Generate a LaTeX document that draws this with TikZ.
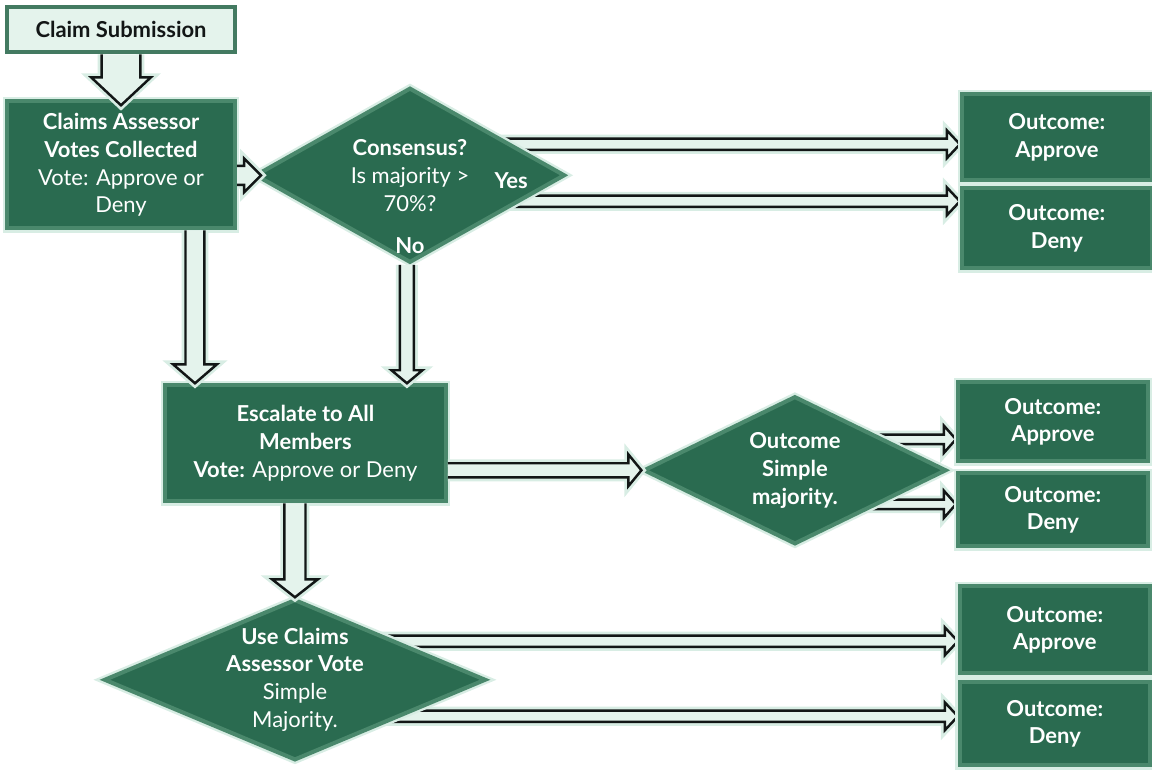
\documentclass[tikz,border=0pt]{standalone}
\usepackage{fontspec}
\setmainfont{Lato}
\usepackage{xcolor}
\usetikzlibrary{shapes.geometric, positioning, calc, backgrounds}

\definecolor{deepgreen}{RGB}{42,107,80}
\definecolor{edgegreen}{RGB}{74,136,108}
\definecolor{mint}{RGB}{228,243,236}
\definecolor{glow}{RGB}{216,237,228}
\definecolor{ink}{RGB}{18,22,22}

\begin{document}
\begin{tikzpicture}[
  x=0.02cm, y=-0.02cm,
  node distance=0.5cm,
  every node/.style={font=\fontsize{12.5}{15.9}\selectfont, align=center, inner sep=0pt},
  boldtext/.style={font=\fontsize{12.5}{15.9}\selectfont\bfseries},
  box/.style={rectangle, fill=deepgreen, draw=edgegreen, line width=2.3pt,
              text=white, preaction={draw=glow, line width=5pt}},
  choice/.style={diamond, fill=deepgreen, draw=edgegreen, line width=2.3pt,
                 text=white, preaction={draw=glow, line width=5pt}},
  startbox/.style={rectangle, fill=mint, draw=edgegreen!90!black, line width=2.6pt,
                   text=ink, boldtext, minimum width=4.56cm, minimum height=0.9cm},
  outcome/.style={box, boldtext, minimum width=3.8cm},
  tag/.style={boldtext, text=white},
  arrowbody/.style={draw=ink, fill=mint, line width=1.4pt, line join=miter,
                    preaction={draw=glow, line width=4.5pt}},
  rarrow/.style n args={3}{arrowbody, to path={
    let \p1=(\tikztostart), \p2=(\tikztotarget) in
    (\x1,\y2+#1) -- (\x2-#3,\y2+#1) -- (\x2-#3,\y2+#2) -- (\x2,\y2)
    -- (\x2-#3,\y2-#2) -- (\x2-#3,\y2-#1) -- (\x1,\y2-#1)}},
  darrow/.style n args={3}{arrowbody, to path={
    let \p1=(\tikztostart), \p2=(\tikztotarget) in
    (\x2-#1,\y1) -- (\x2-#1,\y2+#3) -- (\x2-#2,\y2+#3) -- (\x2,\y2)
    -- (\x2+#2,\y2+#3) -- (\x2+#1,\y2+#3) -- (\x2+#1,\y1)}}
]
\useasboundingbox (0,0) rectangle (1152,769);

% Submission and first vote
\node[startbox] (claim) at (121,29.5) {Claim Submission};
\node[box, below=0.9cm of claim, minimum width=4.56cm, minimum height=2.54cm] (assess)
      {\textbf{Claims Assessor}\\\textbf{Votes Collected}\\Vote: Approve or\\Deny};

% Consensus check
\node[choice, right=0.32cm of assess, yshift=-0.21cm,
      minimum width=6.2cm, minimum height=3.5cm, aspect=1.77] (cons)
      {\textbf{Consensus?}\\Is majority >\\70\%?};
\node[tag, left=0.78cm of cons.east, yshift=-0.1cm] (yes) {Yes};
\node[tag, above=0.22cm of cons.south] (no) {No};

\node[outcome, right=7.86cm of cons, yshift=0.76cm, minimum height=1.72cm] (appr1)
      {Outcome:\\Approve};
\node[outcome, below=0.08cm of appr1, minimum height=1.6cm] (deny1)
      {Outcome:\\Deny};

% Escalation
\node[box, below=3.06cm of assess, xshift=3.69cm,
      minimum width=5.62cm, minimum height=2.32cm] (escal)
      {\textbf{Escalate to All}\\\textbf{Members}\\\textbf{Vote:} Approve or Deny};
\node[choice, boldtext, right=3.87cm of escal, yshift=-0.54cm,
      minimum width=6.06cm, minimum height=2.96cm, aspect=2.02] (outd)
      {Outcome\\Simple\\majority.};
\node[outcome, right=0.15cm of outd, yshift=0.97cm, minimum height=1.58cm] (appr2)
      {Outcome:\\Approve};
\node[outcome, below=0.16cm of appr2, minimum height=1.46cm] (deny2)
      {Outcome:\\Deny};

% Fall back to assessor vote
\node[choice, below=1.88cm of escal, xshift=-0.21cm, inner ysep=-12pt,
      minimum width=7.64cm, minimum height=3.22cm, aspect=2.34] (use)
      {\textbf{Use Claims}\\\textbf{Assessor Vote}\\Simple\\Majority.};
\node[outcome, right=9.4cm of use, yshift=1cm, minimum height=1.74cm] (appr3)
      {Outcome:\\Approve};
\node[outcome, below=0.1cm of appr3, minimum height=1.66cm] (deny3)
      {Outcome:\\Deny};

% Arrows into the next step
\draw[darrow={11pt}{17pt}{15.9pt}] (claim.south) to ([yshift=-0.12cm]assess.north);
\draw[rarrow={5.4pt}{9.6pt}{9.6pt}] (assess.east) to ([xshift=0.16cm]cons.west);
\draw[darrow={5.4pt}{12.5pt}{10.8pt}] (assess.south) to ([xshift=-2.21cm]escal.north);
\draw[darrow={4pt}{8.8pt}{7.4pt}] (cons.south) to ([xshift=2.03cm]escal.north);
\draw[rarrow={4pt}{9pt}{7.4pt}] (escal.east) to (outd.west);
\draw[darrow={6pt}{13pt}{10.2pt}] (escal.south) to (use.north);

% Arrows out of the decisions
\begin{pgfonlayer}{background}
\draw[rarrow={3.2pt}{7.9pt}{7.4pt}] (cons) to ([yshift=-0.14cm]appr1.west);
\draw[rarrow={3.2pt}{7.9pt}{7.4pt}] (cons) to ([yshift=0.54cm]deny1.west);
\draw[rarrow={2.7pt}{7.7pt}{6.8pt}] (outd) to ([yshift=-0.35cm]appr2.west);
\draw[rarrow={2.7pt}{7.7pt}{6.8pt}] (outd) to ([yshift=0.11cm]deny2.west);
\draw[rarrow={3.2pt}{7.9pt}{7.4pt}] (use) to ([yshift=-0.23cm]appr3.west);
\draw[rarrow={3.2pt}{7.9pt}{7.4pt}] (use) to ([yshift=0.15cm]deny3.west);
\end{pgfonlayer}
\end{tikzpicture}
\end{document}
